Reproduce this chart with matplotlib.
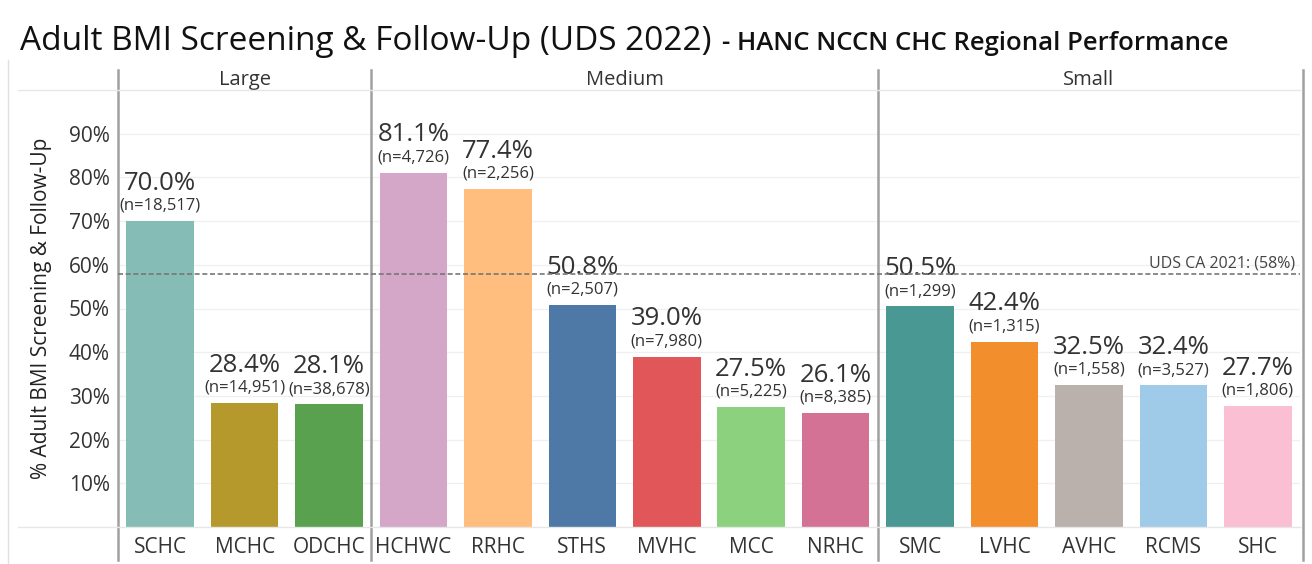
import matplotlib
matplotlib.use("Agg")
import matplotlib.pyplot as plt
from matplotlib.lines import Line2D

plt.rcParams['font.family'] = ['Open Sans', 'DejaVu Sans']

groups = ["Large", "Medium", "Small"]
group_sizes = [3, 6, 5]
centers = ["SCHC", "MCHC", "ODCHC", "HCHWC", "RRHC", "STHS", "MVHC", "MCC", "NRHC",
           "SMC", "LVHC", "AVHC", "RCMS", "SHC"]
rates = [70.0, 28.4, 28.1, 81.1, 77.4, 50.8, 39.0, 27.5, 26.1, 50.5, 42.4, 32.5, 32.4, 27.7]
counts = ["18,517", "14,951", "38,678", "4,726", "2,256", "2,507", "7,980", "5,225", "8,385",
          "1,299", "1,315", "1,558", "3,527", "1,806"]
colors = ["#86bcb6", "#b6992d", "#59a14f", "#d4a6c8", "#ffbe7d", "#4e79a7", "#e15759",
          "#8cd17d", "#d37295", "#499894", "#f28e2b", "#bab0ac", "#a0cbe8", "#fabfd2"]
benchmark = 58
benchmark_label = "UDS CA 2021: (58%)"

W, H = 1312, 564
fig = plt.figure(figsize=(W / 100, H / 100), dpi=100)
ax = fig.add_axes([118 / W, 1 - 527 / H, (1300 - 118) / W, (527 - 90) / H])

yticks = list(range(10, 100, 10))
for v in yticks:
    ax.axhline(v, color="#f0f0f0", lw=1, zorder=0)

x = [i + 0.5 for i in range(len(centers))]
ax.bar(x, rates, width=0.8, color=colors, zorder=2)
for xi, r, n in zip(x, rates, counts):
    ax.annotate(f"(n={n})", (xi, r), xytext=(0, 8), textcoords="offset points",
                ha="center", va="baseline", fontsize=12, color="#333333")
    ax.annotate(f"{r:.1f}%", (xi, r), xytext=(0, 22.5), textcoords="offset points",
                ha="center", va="baseline", fontsize=18.5, color="#333333")

ax.axhline(benchmark, color="#777777", lw=1.2, ls=(0, (3, 1.6)), zorder=3)
ax.text(len(centers) - 0.06, benchmark + 0.5, benchmark_label, ha="right", va="bottom",
        fontsize=11.5, color="#444444")

ax.set_xlim(0, len(centers))
ax.set_ylim(0, 100)
ax.set_xticks(x)
ax.set_xticklabels(centers, fontsize=15, color="#333333")
ax.set_yticks(yticks)
ax.set_yticklabels([f"{v}%" for v in yticks], fontsize=15, color="#333333")
ax.tick_params(length=0)
ax.tick_params(axis="x", pad=7)
ax.tick_params(axis="y", pad=6)
for s in ax.spines.values():
    s.set_visible(False)
ax.set_ylabel("% Adult BMI Screening & Follow-Up", fontsize=15, color="#222222", labelpad=12)

# group dividers and header labels
trans = ax.get_xaxis_transform()
edges = [0]
for g in group_sizes:
    edges.append(edges[-1] + g)
for e in edges[:-1]:
    ax.plot([e, e], [-0.075, 1.046], transform=trans, color="#a0a0a0", lw=1.8, clip_on=False)
for g, a, b in zip(groups, edges[:-1], edges[1:]):
    ax.text((a + b) / 2, 1.0 + 10 / 437, g, transform=trans, ha="center", va="center",
            fontsize=14.5, color="#333333")

# header and bottom rules
fig.add_artist(Line2D([18 / W, 1300 / W], [1 - 90 / H, 1 - 90 / H], color="#e6e6e6", lw=1))
fig.add_artist(Line2D([18 / W, 1300 / W], [1 - 527 / H, 1 - 527 / H], color="#e6e6e6", lw=1))
fig.add_artist(Line2D([1303 / W, 1303 / W], [1 - 70 / H, 1 - 560 / H], color="#a0a0a0", lw=1.8))
fig.add_artist(Line2D([8 / W, 8 / W], [1 - 60 / H, 0], color="#e0e0e0", lw=1))

# title in two parts
t1 = fig.text(20 / W, 1 - 42 / H, "Adult BMI Screening & Follow-Up (UDS 2022)", fontsize=24,
              va="center", ha="left", color="#111111")
fig.canvas.draw()
bb = t1.get_window_extent()
fig.text((bb.x1 + 10) / W, 1 - 44 / H, "- HANC NCCN CHC Regional Performance", fontsize=18.5,
         fontweight="semibold", va="center", ha="left", color="#111111")

fig.savefig("out.png", dpi=100)
